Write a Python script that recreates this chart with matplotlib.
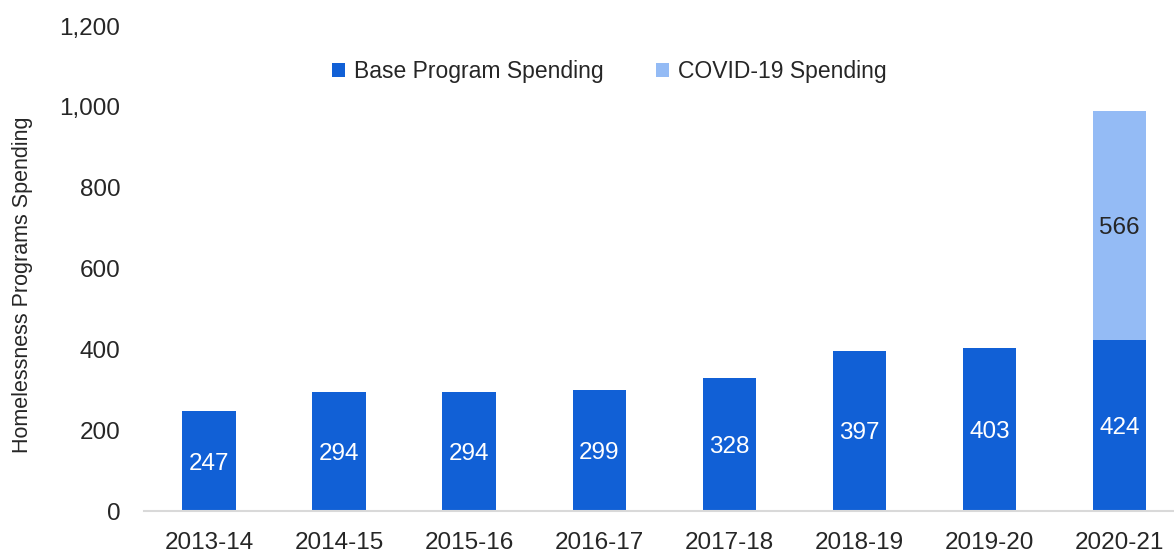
import matplotlib.pyplot as plt
import numpy as np

# Data
years = ['2013-14', '2014-15', '2015-16', '2016-17', '2017-18', '2018-19', '2019-20', '2020-21']
base_spending = [247, 294, 294, 299, 328, 397, 403, 424]
covid_spending = [0, 0, 0, 0, 0, 0, 0, 566]

base_color = '#1160D6'
covid_color = '#94BBF5'
text_color = '#262626'

plt.rcParams['font.family'] = ['Liberation Sans', 'DejaVu Sans']

fig = plt.figure(figsize=(11.74, 5.52), dpi=100)
ax = fig.add_axes([144 / 1174, 41 / 552, 1030 / 1174, 485 / 552])

x = np.arange(len(years))
width = 0.41
ax.bar(x, base_spending, width, color=base_color, label='Base Program Spending')
ax.bar(x, covid_spending, width, bottom=base_spending, color=covid_color,
       label='COVID-19 Spending')

# Value labels in the middle of each segment
for i in range(len(years)):
    ax.text(x[i], base_spending[i] / 2 - 6, str(base_spending[i]), ha='center', va='center',
            color='white', fontsize=17.5)
    if covid_spending[i] > 0:
        ax.text(x[i], base_spending[i] + covid_spending[i] / 2 - 6, str(covid_spending[i]),
                ha='center', va='center', color=text_color, fontsize=17.5)

ax.set_xlim(-0.5, 7.42)
ax.set_ylim(0, 1200)
ax.set_yticks(range(0, 1201, 200))
ax.set_yticklabels([f'{v:,}' for v in range(0, 1201, 200)])
ax.set_xticks(x)
ax.set_xticklabels(years)

for s in ['top', 'right', 'left']:
    ax.spines[s].set_visible(False)
ax.spines['bottom'].set_color('#D9D9D9')
ax.spines['bottom'].set_linewidth(1.5)
ax.tick_params(axis='both', length=0, labelsize=17.5, colors=text_color)
ax.tick_params(axis='y', pad=17)
ax.tick_params(axis='x', pad=15)

ax.set_ylabel('Homelessness Programs Spending', fontsize=15.5, color=text_color)
ax.yaxis.set_label_coords(-0.108, 0.466)

ax.legend(loc='upper center', bbox_to_anchor=(0.452, 0.972), ncol=2, frameon=False,
          fontsize=16.5, handlelength=0.56, handleheight=0.56, handletextpad=0.4,
          columnspacing=2.3, labelcolor=text_color)

fig.savefig('out.png', dpi=100)
